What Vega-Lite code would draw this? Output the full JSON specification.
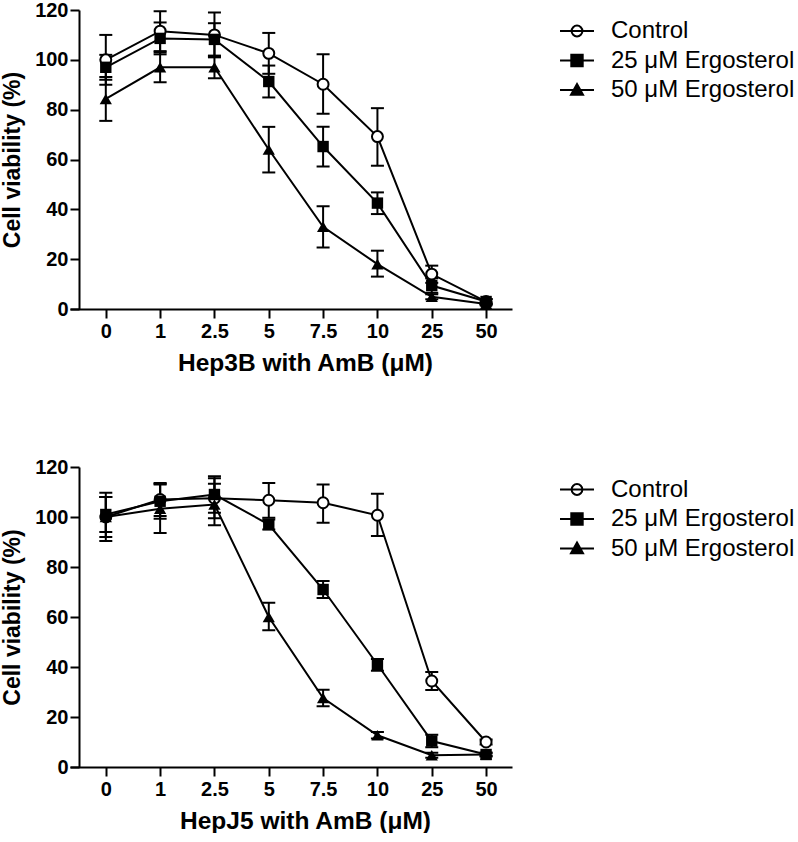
{
  "$schema": "https://vega.github.io/schema/vega-lite/v6.json",
  "background": "white",
  "padding": {"left": 1, "top": 0, "right": 0, "bottom": 0},
  "config": {
    "view": {"stroke": null},
    "font": "Liberation Sans",
    "axis": {
      "labelFont": "Liberation Sans", "labelFontSize": 20, "labelFontWeight": "bold", "labelColor": "black",
      "titleFont": "Liberation Sans", "titleFontWeight": "bold", "titleColor": "black",
      "domainColor": "black", "domainWidth": 2, "tickColor": "black", "tickWidth": 2, "tickSize": 9, "grid": false
    },
    "axisX": {"titleFontSize": 24.5, "labelPadding": 3, "titlePadding": 10, "labelAngle": 0, "titleX": 235},
    "axisY": {"titleFontSize": 23, "labelPadding": 2, "titlePadding": 10},
    "legend": {
      "labelFont": "Liberation Sans", "labelFontSize": 24, "labelColor": "black", "labelFontWeight": "normal",
      "labelLimit": 400, "symbolSize": 144, "labelOffset": 22, "rowPadding": 5.5, "padding": 0, "title": null,
      "symbolStrokeWidth": 2, "symbolOpacity": 1
    }
  },
  "datasets": {
    "hep3b": [
      {"conc": "0", "series": "Control", "v": 100, "lo": 90, "hi": 110},
      {"conc": "1", "series": "Control", "v": 111.5, "lo": 103.5, "hi": 119.5},
      {"conc": "2.5", "series": "Control", "v": 110, "lo": 101, "hi": 119},
      {"conc": "5", "series": "Control", "v": 102.6, "lo": 94.4, "hi": 110.8},
      {"conc": "7.5", "series": "Control", "v": 90.2, "lo": 78.4, "hi": 102.2},
      {"conc": "10", "series": "Control", "v": 69.2, "lo": 57.5, "hi": 80.6},
      {"conc": "25", "series": "Control", "v": 14, "lo": 10.5, "hi": 17.4},
      {"conc": "50", "series": "Control", "v": 3, "lo": 2, "hi": 4},
      {"conc": "0", "series": "25 μM Ergosterol", "v": 97, "lo": 92, "hi": 102},
      {"conc": "1", "series": "25 μM Ergosterol", "v": 108.6, "lo": 102.2, "hi": 115},
      {"conc": "2.5", "series": "25 μM Ergosterol", "v": 108.2, "lo": 101.7, "hi": 114.7},
      {"conc": "5", "series": "25 μM Ergosterol", "v": 91.3, "lo": 84.9, "hi": 97.7},
      {"conc": "7.5", "series": "25 μM Ergosterol", "v": 65.2, "lo": 57.2, "hi": 73.1},
      {"conc": "10", "series": "25 μM Ergosterol", "v": 42.5, "lo": 38.1, "hi": 46.8},
      {"conc": "25", "series": "25 μM Ergosterol", "v": 9.4, "lo": 6.5, "hi": 12.3},
      {"conc": "50", "series": "25 μM Ergosterol", "v": 3, "lo": 2, "hi": 4},
      {"conc": "0", "series": "50 μM Ergosterol", "v": 84.3, "lo": 75.5, "hi": 93.1},
      {"conc": "1", "series": "50 μM Ergosterol", "v": 97, "lo": 91, "hi": 103},
      {"conc": "2.5", "series": "50 μM Ergosterol", "v": 97, "lo": 92.6, "hi": 101.4},
      {"conc": "5", "series": "50 μM Ergosterol", "v": 64, "lo": 54.8, "hi": 73.1},
      {"conc": "7.5", "series": "50 μM Ergosterol", "v": 33, "lo": 24.7, "hi": 41.2},
      {"conc": "10", "series": "50 μM Ergosterol", "v": 18, "lo": 13, "hi": 23.4},
      {"conc": "25", "series": "50 μM Ergosterol", "v": 4.9, "lo": 3.9, "hi": 5.9},
      {"conc": "50", "series": "50 μM Ergosterol", "v": 2, "lo": 1.5, "hi": 2.5}
    ],
    "hepj5": [
      {"conc": "0", "series": "Control", "v": 100, "lo": 90.4, "hi": 109.7},
      {"conc": "1", "series": "Control", "v": 107, "lo": 100.4, "hi": 113.6},
      {"conc": "2.5", "series": "Control", "v": 107.5, "lo": 99.5, "hi": 115.5},
      {"conc": "5", "series": "Control", "v": 106.7, "lo": 99.7, "hi": 113.6},
      {"conc": "7.5", "series": "Control", "v": 105.7, "lo": 97.7, "hi": 113},
      {"conc": "10", "series": "Control", "v": 100.7, "lo": 92.4, "hi": 109.3},
      {"conc": "25", "series": "Control", "v": 34.4, "lo": 30.8, "hi": 38},
      {"conc": "50", "series": "Control", "v": 10, "lo": 9, "hi": 11},
      {"conc": "0", "series": "25 μM Ergosterol", "v": 101, "lo": 94, "hi": 108},
      {"conc": "1", "series": "25 μM Ergosterol", "v": 106.3, "lo": 99.3, "hi": 113.3},
      {"conc": "2.5", "series": "25 μM Ergosterol", "v": 109, "lo": 101.7, "hi": 116.3},
      {"conc": "5", "series": "25 μM Ergosterol", "v": 97, "lo": 95, "hi": 99},
      {"conc": "7.5", "series": "25 μM Ergosterol", "v": 71, "lo": 67.6, "hi": 74.4},
      {"conc": "10", "series": "25 μM Ergosterol", "v": 41, "lo": 38.5, "hi": 43.2},
      {"conc": "25", "series": "25 μM Ergosterol", "v": 10.4, "lo": 7.9, "hi": 12.9},
      {"conc": "50", "series": "25 μM Ergosterol", "v": 5, "lo": 4.2, "hi": 5.8},
      {"conc": "0", "series": "50 μM Ergosterol", "v": 100, "lo": 92, "hi": 108},
      {"conc": "1", "series": "50 μM Ergosterol", "v": 103.3, "lo": 93.6, "hi": 113},
      {"conc": "2.5", "series": "50 μM Ergosterol", "v": 105, "lo": 96.7, "hi": 113.3},
      {"conc": "5", "series": "50 μM Ergosterol", "v": 60, "lo": 54.7, "hi": 65.7},
      {"conc": "7.5", "series": "50 μM Ergosterol", "v": 27.6, "lo": 24.3, "hi": 30.9},
      {"conc": "10", "series": "50 μM Ergosterol", "v": 12.7, "lo": 11.4, "hi": 14},
      {"conc": "25", "series": "50 μM Ergosterol", "v": 4.7, "lo": 3.7, "hi": 5.7},
      {"conc": "50", "series": "50 μM Ergosterol", "v": 5, "lo": 4.5, "hi": 5.5}
    ]
  },
  "resolve": {"legend": {"shape": "independent", "fill": "independent", "stroke": "independent"}},
  "spacing": 82,
  "vconcat": [
    {
      "width": 442, "height": 299,
      "data": {"name": "hep3b"},
      "encoding": {
        "x": {"field": "conc", "type": "ordinal", "sort": ["0", "1", "2.5", "5", "7.5", "10", "25", "50"],
              "scale": {"type": "point", "padding": 0.568, "align": 0.58},
              "axis": {"title": "Hep3B with AmB (μM)"}},
        "y": {"field": "v", "type": "quantitative",
              "scale": {"domain": [0, 120], "nice": false},
              "axis": {"title": "Cell viability (%)", "values": [0, 20, 40, 60, 80, 100, 120], "offset": -9}}
      },
      "layer": [
        {"mark": {"type": "rule", "color": "black", "strokeWidth": 2},
         "encoding": {"y": {"field": "lo", "type": "quantitative"}, "y2": {"field": "hi"}}},
        {"mark": {"type": "tick", "color": "black", "thickness": 2, "size": 13, "orient": "horizontal", "opacity": 1},
         "encoding": {"y": {"field": "lo", "type": "quantitative"}}},
        {"mark": {"type": "tick", "color": "black", "thickness": 2, "size": 13, "orient": "horizontal", "opacity": 1},
         "encoding": {"y": {"field": "hi", "type": "quantitative"}}},
        {"mark": {"type": "line", "color": "black", "strokeWidth": 2},
         "encoding": {"detail": {"field": "series"}}},
        {"transform": [{"filter": "datum.series === 'Control'"}],
         "mark": {"type": "point", "shape": "circle", "fill": "white", "stroke": "black", "strokeWidth": 2, "size": 120, "opacity": 1},
         "encoding": {}},
        {"transform": [{"filter": "datum.series === '25 μM Ergosterol'"}],
         "mark": {"type": "point", "shape": "square", "filled": true, "color": "black", "size": 130, "opacity": 1},
         "encoding": {}},
        {"transform": [{"filter": "datum.series === '50 μM Ergosterol'"}],
         "mark": {"type": "point", "shape": "triangle-up", "filled": true, "color": "black", "size": 150, "opacity": 1},
         "encoding": {}},
        {"mark": {"type": "point", "opacity": 0, "filled": false, "strokeWidth": 2},
         "encoding": {
           "shape": {"field": "series", "type": "nominal",
                     "scale": {"domain": ["Control", "25 μM Ergosterol", "50 μM Ergosterol"],
                               "range": ["M-2.83,0H2.83M-0.9,0A0.9,0.9 0 1,0 0.9,0A0.9,0.9 0 1,0 -0.9,0Z", "M-2.83,0H2.83M-0.95,-0.95H0.95V0.95H-0.95Z", "M-2.83,0H2.83M0,-1L1,0.8H-1Z"]},
                     "legend": {"orient": "none", "legendX": 495, "legendY": 9}},
           "fill": {"field": "series", "type": "nominal",
                    "scale": {"domain": ["Control", "25 μM Ergosterol", "50 μM Ergosterol"], "range": ["white", "black", "black"]},
                    "legend": {"orient": "none", "legendX": 495, "legendY": 9}},
           "stroke": {"field": "series", "type": "nominal",
                    "scale": {"domain": ["Control", "25 μM Ergosterol", "50 μM Ergosterol"], "range": ["black", "black", "black"]},
                    "legend": {"orient": "none", "legendX": 495, "legendY": 9}}
         }}
      ]
    },
    {
      "width": 442, "height": 300,
      "data": {"name": "hepj5"},
      "encoding": {
        "x": {"field": "conc", "type": "ordinal", "sort": ["0", "1", "2.5", "5", "7.5", "10", "25", "50"],
              "scale": {"type": "point", "padding": 0.568, "align": 0.58},
              "axis": {"title": "HepJ5 with AmB (μM)"}},
        "y": {"field": "v", "type": "quantitative",
              "scale": {"domain": [0, 120], "nice": false},
              "axis": {"title": "Cell viability (%)", "values": [0, 20, 40, 60, 80, 100, 120], "offset": -9}}
      },
      "layer": [
        {"mark": {"type": "rule", "color": "black", "strokeWidth": 2},
         "encoding": {"y": {"field": "lo", "type": "quantitative"}, "y2": {"field": "hi"}}},
        {"mark": {"type": "tick", "color": "black", "thickness": 2, "size": 13, "orient": "horizontal", "opacity": 1},
         "encoding": {"y": {"field": "lo", "type": "quantitative"}}},
        {"mark": {"type": "tick", "color": "black", "thickness": 2, "size": 13, "orient": "horizontal", "opacity": 1},
         "encoding": {"y": {"field": "hi", "type": "quantitative"}}},
        {"mark": {"type": "line", "color": "black", "strokeWidth": 2},
         "encoding": {"detail": {"field": "series"}}},
        {"transform": [{"filter": "datum.series === 'Control'"}],
         "mark": {"type": "point", "shape": "circle", "fill": "white", "stroke": "black", "strokeWidth": 2, "size": 120, "opacity": 1},
         "encoding": {}},
        {"transform": [{"filter": "datum.series === '25 μM Ergosterol'"}],
         "mark": {"type": "point", "shape": "square", "filled": true, "color": "black", "size": 130, "opacity": 1},
         "encoding": {}},
        {"transform": [{"filter": "datum.series === '50 μM Ergosterol'"}],
         "mark": {"type": "point", "shape": "triangle-up", "filled": true, "color": "black", "size": 150, "opacity": 1},
         "encoding": {}},
        {"mark": {"type": "point", "opacity": 0, "filled": false, "strokeWidth": 2},
         "encoding": {
           "shape": {"field": "series", "type": "nominal",
                     "scale": {"domain": ["Control", "25 μM Ergosterol", "50 μM Ergosterol"],
                               "range": ["M-2.83,0H2.83M-0.9,0A0.9,0.9 0 1,0 0.9,0A0.9,0.9 0 1,0 -0.9,0Z", "M-2.83,0H2.83M-0.95,-0.95H0.95V0.95H-0.95Z", "M-2.83,0H2.83M0,-1L1,0.8H-1Z"]},
                     "legend": {"orient": "none", "legendX": 495, "legendY": 10.5}},
           "fill": {"field": "series", "type": "nominal",
                    "scale": {"domain": ["Control", "25 μM Ergosterol", "50 μM Ergosterol"], "range": ["white", "black", "black"]},
                    "legend": {"orient": "none", "legendX": 495, "legendY": 10.5}},
           "stroke": {"field": "series", "type": "nominal",
                    "scale": {"domain": ["Control", "25 μM Ergosterol", "50 μM Ergosterol"], "range": ["black", "black", "black"]},
                    "legend": {"orient": "none", "legendX": 495, "legendY": 10.5}}
         }}
      ]
    }
  ]
}
